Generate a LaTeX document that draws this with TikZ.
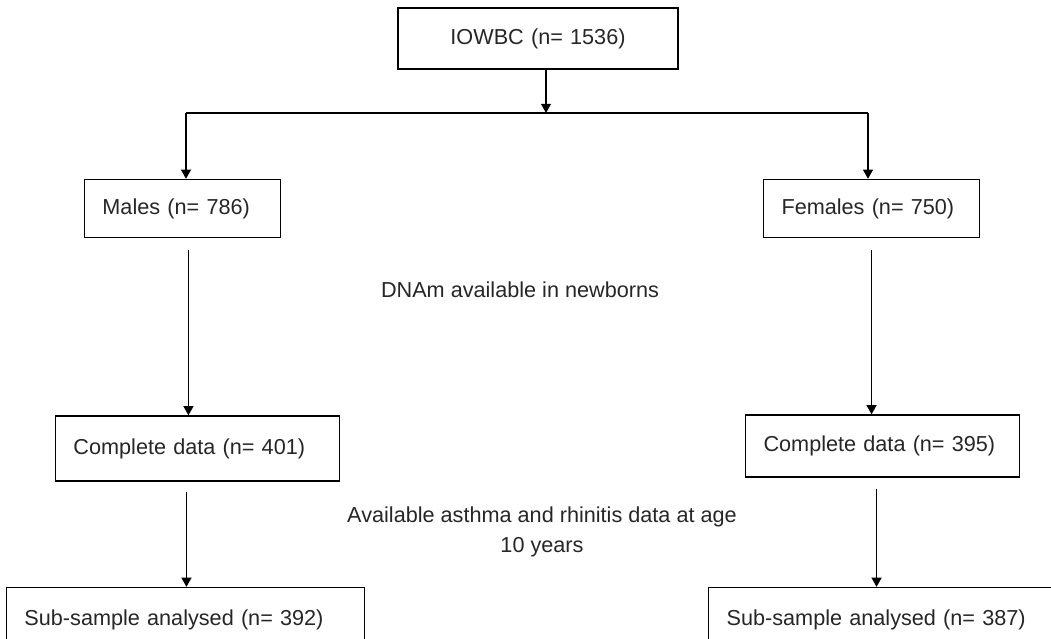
\documentclass[tikz,border=0pt]{standalone}
\usepackage{fontspec}
\setmainfont{Liberation Sans}
\usetikzlibrary{positioning,calc,arrows.meta}

\begin{document}
\begin{tikzpicture}[box/.style={draw, line width=1.1pt, shape=rectangle, align=left, inner xsep=0.45cm, inner ysep=0pt},
    flow/.style={line width=1.1pt, -{Triangle[width=7pt,length=6.5pt]}},
    font=\fontsize{15.4pt}{21.3pt}\selectfont, text=black!85]
    \useasboundingbox (0,0) rectangle (26.275,-15.95);
    \clip (0,0) rectangle (26.275,-15.95);
    \node[box, align=center, text width=6.1cm, style={minimum height=1.525cm}] (iow) at (13.45,-0.9625) {IOWBC (n= 1536)};
    \node[box, text width=4cm, style={minimum height=1.45cm}] (males) [below left=2.725cm and 2.9cm of iow] {Males (n= 786)};
    \node[box, text width=4.5cm, style={minimum height=1.45cm}] (females) [below right=2.725cm and 2.1cm of iow] {Females (n= 750)};
    \node[box, text width=6.2cm, style={minimum height=1.625cm}] (cl) [below=4.425cm of males, xshift=0.375cm] {Complete data (n= 401)};
    \node[box, text width=5.95cm, style={minimum height=1.55cm}] (cr) [below=4.4cm of females, xshift=0.275cm] {Complete data (n= 395)};
    \node[box, text width=8.05cm, style={minimum height=1.6cm}] (sl) [below=2.625cm of cl, xshift=-0.3cm] {Sub-sample analysed (n= 392)};
    \node[box, text width=7.975cm, style={minimum height=1.6cm}] (sr) [below=2.725cm of cr, xshift=0.09cm] {Sub-sample analysed (n= 387)};
    \node (dna) at (13.0,-7.25) {DNAm available in newborns};
    \node[align=center] (avail) at (13.55,-13.3) {Available asthma and rhinitis data at age\\10 years};
    \coordinate (split) at (13.65,-2.825);
    \coordinate (jl) at (4.65,-2.825);
    \coordinate (jr) at (21.7,-2.825);
    \coordinate (m1) at ([xshift=0.15cm]males.south);
    \coordinate (c1) at ([xshift=-0.275cm]cl.south);
    \coordinate (c2) at ([xshift=-0.15cm]cr.south);
    \draw[flow] (iow.south -| split) -- (split);
    \draw[line width=1.1pt] (jl) -- (jr);
    \draw[flow] (jl) -- (jl |- males.north);
    \draw[flow] (jr) -- (jr |- females.north);
    \draw[flow, shorten <=0.3cm] (m1) -- (m1 |- cl.north);
    \draw[flow, shorten <=0.3cm] (females.south) -- (females.south |- cr.north);
    \draw[flow, shorten <=0.25cm] (c1) -- (c1 |- sl.north);
    \draw[flow, shorten <=0.275cm] (c2) -- (c2 |- sr.north);
\end{tikzpicture}
\end{document}
